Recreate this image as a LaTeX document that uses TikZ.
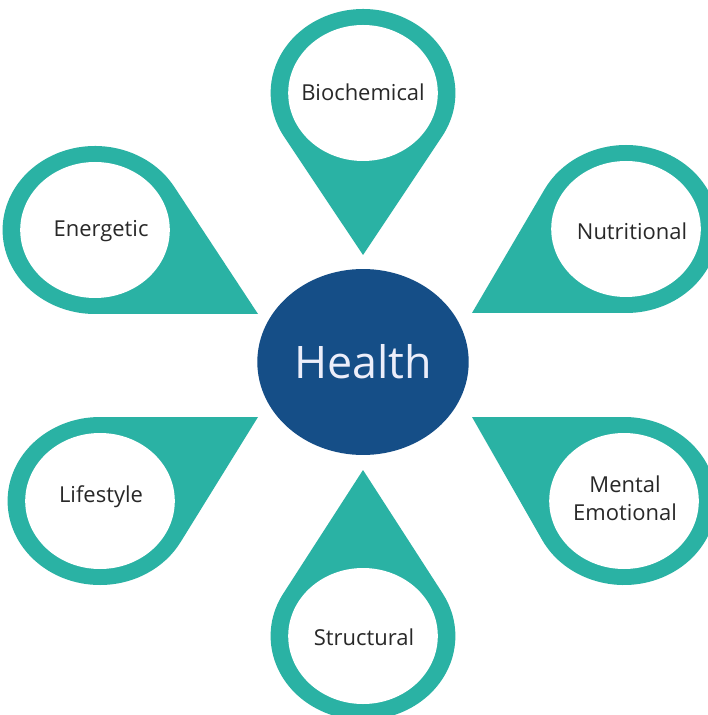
\documentclass[tikz,border=0pt]{standalone}
\usepackage{fontspec}
\setmainfont{Open Sans}
\usetikzlibrary{shapes.geometric}
\definecolor{pinteal}{RGB}{42,178,164}
\definecolor{healthblue}{RGB}{21,78,135}
\definecolor{healthtext}{RGB}{236,238,250}
\definecolor{pingray}{RGB}{40,40,40}

% pin with ring centre (#1,#2) and tip (#3,#4)
\newcommand{\drawpin}[4]{%
  \pgfmathsetmacro\pdx{(#3-#1)/1.1}%
  \pgfmathsetmacro\pdy{#4-#2}%
  \pgfmathsetmacro\pth{atan2(\pdy,\pdx)}%
  \pgfmathsetmacro\pal{acos(84/veclen(\pdx,\pdy))}%
  \begin{scope}[shift={(#1,#2)},xscale=1.1]
    \fill[pinteal] (\pdx,\pdy) -- (\pth-\pal:84)
      arc[start angle=\pth-\pal, end angle=\pth+\pal-360, radius=84] -- cycle;
    \fill[white] (0,0) circle[radius=68];
  \end{scope}}

\begin{document}
\begin{tikzpicture}[x=0.02cm,y=-0.02cm,
    pintext/.style={text=pingray,font=\fontsize{12.5}{16}\selectfont,align=center},
    healthdot/.style={ellipse,fill=healthblue,minimum width=4.12cm,minimum height=3.72cm,
      text=healthtext,font=\fontsize{25.5}{30}\selectfont}]
  \useasboundingbox (0,0) rectangle (707,715);
  \fill[white] (0,0) rectangle (707,715);
  \drawpin{363}{93}{363}{255}
  \drawpin{95}{230}{258}{314}
  \drawpin{626}{229}{472}{313}
  \drawpin{100}{501}{258}{417}
  \drawpin{624}{501}{472}{417}
  \drawpin{363}{636}{363}{470}
  \node[healthdot] (health) at (363,362) {Health};
  \node[pintext] (bio) at (363,92) {Biochemical};
  \node[pintext] (ener) at (101,231) {Energetic};
  \node[pintext] (nutr) at (632,231) {Nutritional};
  \node[pintext] (life) at (101,497) {Lifestyle};
  \node[pintext] (ment) at (625,498) {Mental\\Emotional};
  \node[pintext] (stru) at (364,637) {Structural};
\end{tikzpicture}
\end{document}
